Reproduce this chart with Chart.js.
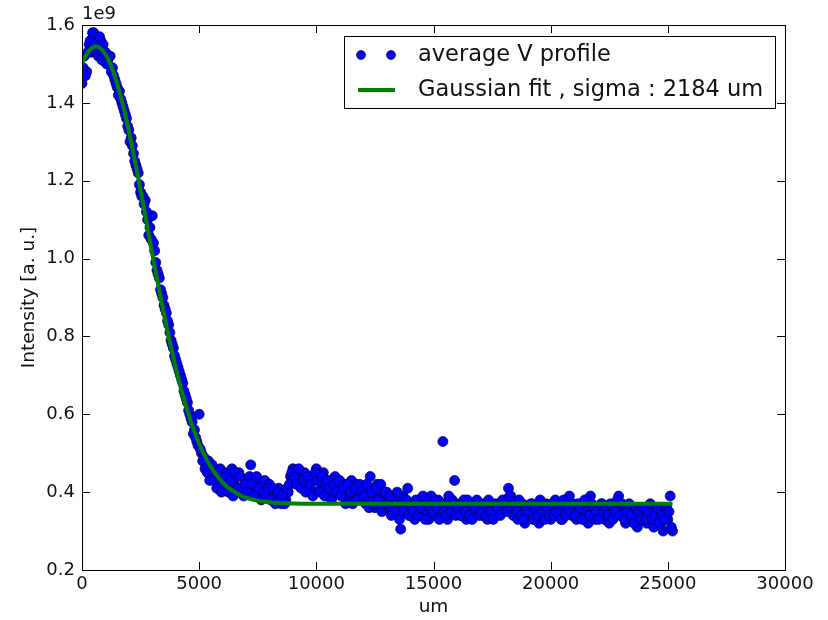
<!DOCTYPE html>
<html>
<head>
<meta charset="utf-8">
<script src="https://cdn.jsdelivr.net/npm/chart.js@4.4.1/dist/chart.umd.min.js"></script>
<style>
  html, body { margin: 0; padding: 0; background: #fff; }
  #wrap { width: 828px; height: 620px; }
</style>
</head>
<body>
<div id="wrap"><canvas id="myChart" width="828" height="620"></canvas></div>
<script>
// positions along the profile (um), whole hundreds
var profileX = [
  0,100,200,300,400,500,600,700,800,900,
  1000,1100,1200,1300,1400,1500,1600,1700,1800,1900,
  2000,2100,2200,2300,2400,2500,2600,2700,2800,2900,
  3000,3100,3200,3300,3400,3500,3600,3700,3800,3900,
  4000,4100,4200,4300,4400,4500,4600,4700,4800,4900,
  5000,5100,5200,5300,5400,5500,5600,5700,5800,5900,
  6000,6100,6200,6300,6400,6500,6600,6700,6800,6900,
  7000,7100,7200,7300,7400,7500,7600,7700,7800,7900,
  8000,8100,8200,8300,8400,8500,8600,8700,8800,8900,
  9000,9100,9200,9300,9400,9500,9600,9700,9800,9900,
  10000,10100,10200,10300,10400,10500,10600,10700,10800,10900,
  11000,11100,11200,11300,11400,11500,11600,11700,11800,11900,
  12000,12100,12200,12300,12400,12500,12600,12700,12800,12900,
  13000,13100,13200,13300,13400,13500,13600,13700,13800,13900,
  14000,14100,14200,14300,14400,14500,14600,14700,14800,14900,
  15000,15100,15200,15300,15400,15500,15600,15700,15800,15900,
  16000,16100,16200,16300,16400,16500,16600,16700,16800,16900,
  17000,17100,17200,17300,17400,17500,17600,17700,17800,17900,
  18000,18100,18200,18300,18400,18500,18600,18700,18800,18900,
  19000,19100,19200,19300,19400,19500,19600,19700,19800,19900,
  20000,20100,20200,20300,20400,20500,20600,20700,20800,20900,
  21000,21100,21200,21300,21400,21500,21600,21700,21800,21900,
  22000,22100,22200,22300,22400,22500,22600,22700,22800,22900,
  23000,23100,23200,23300,23400,23500,23600,23700,23800,23900,
  24000,24100,24200,24300,24400,24500,24600,24700,24800,24900,
  25000,25100,25200
];
// average V profile intensity at those positions (x 1e9)
var profileY = [
  1.45,1.52,1.48,1.55,1.53,1.58,1.57,1.52,1.56,1.55,
  1.53,1.51,1.52,1.49,1.46,1.44,1.43,1.40,1.38,1.36,
  1.33,1.31,1.27,1.24,1.22,1.17,1.16,1.15,1.10,1.08,
  1.11,1.02,0.97,0.95,0.91,0.88,0.86,0.83,0.79,0.77,
  0.74,0.72,0.70,0.68,0.65,0.63,0.60,0.58,0.56,0.53,
  0.60,0.50,0.49,0.47,0.48,0.46,0.44,0.45,0.42,0.46,
  0.43,0.41,0.45,0.44,0.46,0.42,0.40,0.45,0.41,0.39,
  0.43,0.41,0.47,0.40,0.43,0.39,0.42,0.41,0.43,0.40,
  0.42,0.39,0.40,0.38,0.41,0.37,0.39,0.38,0.40,0.44,
  0.46,0.45,0.43,0.44,0.42,0.45,0.41,0.44,0.43,0.40,
  0.46,0.44,0.41,0.45,0.42,0.40,0.43,0.39,0.44,0.41,
  0.43,0.40,0.42,0.38,0.41,0.43,0.39,0.42,0.40,0.38,
  0.41,0.37,0.40,0.44,0.38,0.36,0.42,0.39,0.35,0.38,
  0.40,0.36,0.34,0.38,0.37,0.35,0.305,0.39,0.36,0.41,
  0.34,0.37,0.33,0.36,0.38,0.34,0.37,0.35,0.33,0.39,
  0.36,0.34,0.38,0.35,0.53,0.37,0.33,0.36,0.38,0.43,
  0.35,0.37,0.34,0.38,0.33,0.36,0.37,0.34,0.36,0.35,
  0.37,0.34,0.36,0.33,0.37,0.35,0.36,0.34,0.37,0.35,
  0.36,0.38,0.41,0.39,0.34,0.36,0.33,0.35,0.37,0.32,
  0.36,0.34,0.37,0.33,0.35,0.32,0.36,0.34,0.37,0.35,
  0.33,0.36,0.38,0.34,0.36,0.33,0.35,0.37,0.39,0.34,
  0.36,0.33,0.35,0.37,0.34,0.36,0.32,0.39,0.35,0.33,
  0.36,0.34,0.37,0.33,0.35,0.32,0.36,0.34,0.37,0.39,
  0.34,0.36,0.32,0.35,0.33,0.36,0.34,0.31,0.35,0.33,
  0.36,0.32,0.34,0.35,0.31,0.33,0.35,0.32,0.30,0.34,
  0.33,0.39,0.30
];
// positions in between (um)
var profileXHalf = [
  50,150,250,350,450,550,650,750,850,950,
  1050,1150,1250,1350,1450,1550,1650,1750,1850,1950,
  2050,2150,2250,2350,2450,2550,2650,2750,2850,2950,
  3050,3150,3250,3350,3450,3550,3650,3750,3850,3950,
  4050,4150,4250,4350,4450,4550,4650,4750,4850,4950,
  5050,5150,5250,5350,5450,5550,5650,5750,5850,5950,
  6050,6150,6250,6350,6450,6550,6650,6750,6850,6950,
  7050,7150,7250,7350,7450,7550,7650,7750,7850,7950,
  8050,8150,8250,8350,8450,8550,8650,8750,8850,8950,
  9050,9150,9250,9350,9450,9550,9650,9750,9850,9950,
  10050,10150,10250,10350,10450,10550,10650,10750,10850,10950,
  11050,11150,11250,11350,11450,11550,11650,11750,11850,11950,
  12050,12150,12250,12350,12450,12550,12650,12750,12850,12950,
  13050,13150,13250,13350,13450,13550,13650,13750,13850,13950,
  14050,14150,14250,14350,14450,14550,14650,14750,14850,14950,
  15050,15150,15250,15350,15450,15550,15650,15750,15850,15950,
  16050,16150,16250,16350,16450,16550,16650,16750,16850,16950,
  17050,17150,17250,17350,17450,17550,17650,17750,17850,17950,
  18050,18150,18250,18350,18450,18550,18650,18750,18850,18950,
  19050,19150,19250,19350,19450,19550,19650,19750,19850,19950,
  20050,20150,20250,20350,20450,20550,20650,20750,20850,20950,
  21050,21150,21250,21350,21450,21550,21650,21750,21850,21950,
  22050,22150,22250,22350,22450,22550,22650,22750,22850,22950,
  23050,23150,23250,23350,23450,23550,23650,23750,23850,23950,
  24050,24150,24250,24350,24450,24550,24650,24750,24850,24950,
  25050,25150
];
var profileYHalf = [
  1.49,1.47,1.53,1.56,1.58,1.55,1.54,1.57,1.51,1.53,
  1.50,1.52,1.48,1.47,1.45,1.42,1.41,1.39,1.37,1.34,
  1.30,1.29,1.25,1.23,1.19,1.16,1.14,1.12,1.06,1.05,
  1.04,0.99,0.96,0.92,0.90,0.87,0.84,0.81,0.78,0.75,
  0.73,0.71,0.69,0.66,0.64,0.61,0.59,0.55,0.54,0.52,
  0.51,0.48,0.46,0.45,0.43,0.47,0.43,0.41,0.44,0.40,
  0.42,0.44,0.40,0.43,0.39,0.45,0.41,0.44,0.40,0.42,
  0.40,0.44,0.42,0.39,0.44,0.41,0.38,0.40,0.39,0.41,
  0.38,0.41,0.37,0.40,0.38,0.39,0.37,0.41,0.42,0.45,
  0.44,0.42,0.46,0.41,0.43,0.40,0.44,0.42,0.39,0.45,
  0.43,0.40,0.44,0.39,0.43,0.41,0.38,0.42,0.40,0.43,
  0.39,0.41,0.37,0.42,0.40,0.37,0.41,0.38,0.42,0.40,
  0.39,0.42,0.36,0.40,0.37,0.41,0.38,0.42,0.37,0.40,
  0.37,0.39,0.36,0.35,0.40,0.33,0.37,0.35,0.38,0.34,
  0.36,0.35,0.38,0.34,0.36,0.39,0.33,0.37,0.36,0.35,
  0.38,0.36,0.33,0.37,0.35,0.34,0.39,0.35,0.37,0.34,
  0.36,0.34,0.37,0.35,0.38,0.34,0.33,0.36,0.38,0.34,
  0.35,0.37,0.34,0.38,0.35,0.33,0.37,0.36,0.34,0.38,
  0.37,0.35,0.39,0.36,0.37,0.35,0.38,0.34,0.33,0.36,
  0.35,0.37,0.33,0.36,0.34,0.38,0.35,0.33,0.36,0.34,
  0.37,0.34,0.35,0.37,0.33,0.38,0.34,0.36,0.35,0.37,
  0.34,0.37,0.36,0.33,0.38,0.35,0.34,0.37,0.36,0.35,
  0.33,0.37,0.35,0.36,0.34,0.37,0.33,0.35,0.38,0.34,
  0.37,0.33,0.35,0.37,0.34,0.32,0.36,0.35,0.33,0.36,
  0.33,0.35,0.37,0.33,0.34,0.36,0.32,0.34,0.33,0.36,
  0.35,0.31
];
// gaussian fit curve (x 1e9)
var fitX = [0,250,500,750,1000,1250,1500,1750,2000,2250,2500,2750,3000,3250,3500,3750,
  4000,4250,4500,4750,5000,5250,5500,5750,6000,6250,6500,6750,7000,7500,8000,8500,9000,
  10000,12500,15000,17500,20000,22500,25200];
var fitY = [1.501,1.530,1.544,1.542,1.525,1.494,1.449,1.393,1.327,1.253,1.175,1.094,1.012,0.933,0.857,0.785,
  0.720,0.661,0.609,0.563,0.524,0.492,0.465,0.443,0.425,0.411,0.401,0.392,0.386,0.378,0.374,0.372,0.371,
  0.370,0.370,0.370,0.370,0.370,0.370,0.370];

var xTicks = [0,5000,10000,15000,20000,25000,30000];
var yTicks = [0.2,0.4,0.6,0.8,1.0,1.2,1.4,1.6];
var legendLabels = ["average V profile", "Gaussian fit , sigma : 2184 um"];

var FONT = "'DejaVu Sans', sans-serif";

var scatterPts = profileX.map(function(x, i){ return {x: x, y: profileY[i]}; })
  .concat(profileXHalf.map(function(x, i){ return {x: x, y: profileYHalf[i]}; }));
var fitPts = fitX.map(function(x, i){ return {x: x, y: fitY[i]}; });

// white background + matplotlib style frame, inward ticks, legend and labels
var mplLook = {
  id: 'mplLook',
  beforeDraw: function(chart) {
    var ctx = chart.ctx;
    ctx.save();
    ctx.fillStyle = '#fff';
    ctx.fillRect(0, 0, chart.width, chart.height);
    ctx.restore();
  },
  afterDraw: function(chart) {
    var ctx = chart.ctx, a = chart.chartArea;
    var xs = chart.scales.x, ys = chart.scales.y;
    ctx.save();
    ctx.strokeStyle = '#000';
    ctx.lineWidth = 1;
    ctx.strokeRect(Math.round(a.left) + 0.5, Math.round(a.top) + 0.5,
      Math.round(a.right - a.left), Math.round(a.bottom - a.top));
    ctx.beginPath();
    xTicks.forEach(function(v){
      var px = Math.round(xs.getPixelForValue(v)) + 0.5;
      ctx.moveTo(px, a.bottom); ctx.lineTo(px, a.bottom - 8);
      ctx.moveTo(px, a.top); ctx.lineTo(px, a.top + 8);
    });
    yTicks.forEach(function(v){
      var py = Math.round(ys.getPixelForValue(v)) + 0.5;
      ctx.moveTo(a.left, py); ctx.lineTo(a.left + 8, py);
      ctx.moveTo(a.right, py); ctx.lineTo(a.right - 8, py);
    });
    ctx.stroke();

    // axis titles and offset text
    ctx.fillStyle = '#111';
    ctx.font = '18.5px ' + FONT;
    ctx.textAlign = 'center';
    ctx.textBaseline = 'middle';
    ctx.fillText('um', (a.left + a.right) / 2, 607);
    ctx.save();
    ctx.translate(29, (a.top + a.bottom) / 2);
    ctx.rotate(-Math.PI / 2);
    ctx.fillText('Intensity [a. u.]', 0, 0);
    ctx.restore();
    ctx.textAlign = 'left';
    ctx.textBaseline = 'alphabetic';
    ctx.font = '18px ' + FONT;
    ctx.fillText('1e9', a.left, a.top - 6);

    // legend
    var bx = 344.5, by = 36.5, bw = 431, bh = 72;
    ctx.fillStyle = '#fff';
    ctx.fillRect(bx, by, bw, bh);
    ctx.strokeStyle = '#000';
    ctx.strokeRect(bx, by, bw, bh);
    [361, 391].forEach(function(cx){
      ctx.beginPath();
      ctx.arc(cx, 55, 4.5, 0, Math.PI * 2);
      ctx.fillStyle = '#0000ff';
      ctx.fill();
      ctx.lineWidth = 0.6;
      ctx.strokeStyle = '#000';
      ctx.stroke();
    });
    ctx.beginPath();
    ctx.moveTo(358, 90); ctx.lineTo(395, 90);
    ctx.lineWidth = 4;
    ctx.strokeStyle = '#008000';
    ctx.stroke();
    ctx.fillStyle = '#111';
    ctx.font = '22.5px ' + FONT;
    ctx.textBaseline = 'middle';
    ctx.fillText(legendLabels[0], 418, 55);
    ctx.fillText(legendLabels[1], 418, 90);
    ctx.restore();
  }
};

var ctx = document.getElementById('myChart');
var myChart = new Chart(ctx, {
  type: 'scatter',
  data: {
    datasets: [
      {
        type: 'line',
        label: legendLabels[1],
        data: fitPts,
        borderColor: '#008000',
        borderWidth: 4,
        pointRadius: 0,
        tension: 0.35,
        fill: false,
        clip: 0,
        order: 0
      },
      {
        label: legendLabels[0],
        data: scatterPts,
        pointRadius: 5,
        pointHoverRadius: 5,
        backgroundColor: '#0000ff',
        borderColor: '#000033',
        borderWidth: 0.7,
        clip: 0,
        order: 1
      }
    ]
  },
  options: {
    responsive: false,
    animation: false,
    events: [],
    layout: { padding: { top: 25, right: 43, left: 0, bottom: 0 } },
    plugins: { legend: { display: false }, tooltip: { enabled: false } },
    scales: {
      x: {
        type: 'linear',
        min: 0, max: 30000,
        grid: { display: false, drawTicks: false },
        border: { display: false },
        afterFit: function(s){ s.height = 50; },
        afterBuildTicks: function(s){ s.ticks = xTicks.map(function(v){ return {value: v}; }); },
        ticks: {
          padding: 4,
          color: '#111',
          font: { family: FONT, size: 18 },
          maxRotation: 0,
          callback: function(v){ return String(v); }
        }
      },
      y: {
        type: 'linear',
        min: 0.2, max: 1.6,
        grid: { display: false, drawTicks: false },
        border: { display: false },
        afterFit: function(s){ s.width = 82; },
        afterBuildTicks: function(s){ s.ticks = yTicks.map(function(v){ return {value: v}; }); },
        ticks: {
          padding: 7,
          color: '#111',
          font: { family: FONT, size: 18 },
          callback: function(v){ return Number(v).toFixed(1); }
        }
      }
    }
  },
  plugins: [mplLook]
});
</script>
</body>
</html>
